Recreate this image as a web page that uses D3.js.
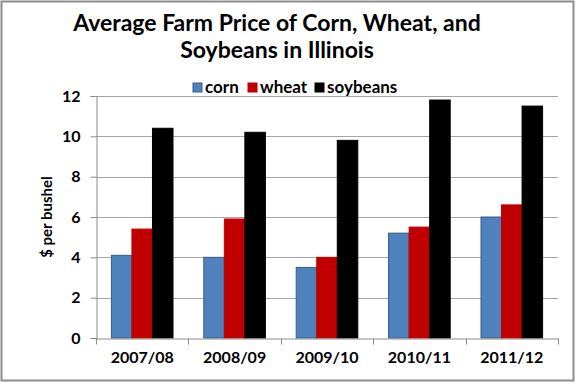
<!DOCTYPE html>
<html>
<head>
<meta charset="utf-8">
<script src="https://cdn.jsdelivr.net/npm/d3@7"></script>
<style>
  body { margin: 0; background: #fff; }
  text { font-family: "Lato", "Open Sans", sans-serif; font-weight: bold; fill: #000; }
</style>
</head>
<body>
<div id="chart"></div>
<script>
var years = ["2007/08", "2008/09", "2009/10", "2010/11", "2011/12"];
var series = ["corn", "wheat", "soybeans"];
var corn = [4.1, 4.0, 3.5, 5.2, 6.0];
var wheat = [5.4, 5.9, 4.0, 5.5, 6.6];
var soybeans = [10.4, 10.2, 9.8, 11.8, 11.5];
var yTicks = [0, 2, 4, 6, 8, 10, 12];

var colors = { corn: "#4F81BD", wheat: "#C00000", soybeans: "#000000" };
var strokes = { corn: "#385D8A", wheat: "#C00000", soybeans: "#000000" };
var values = { corn: corn, wheat: wheat, soybeans: soybeans };

var svgWidth = 577;
var svgHeight = 384;

var margin = { top: 96, right: 19, bottom: 46, left: 96 };
var width = svgWidth - margin.left - margin.right;
var height = svgHeight - margin.top - margin.bottom;

var svg = d3.select("#chart")
  .append("svg")
  .attr("width", svgWidth)
  .attr("height", svgHeight);

// outer frame
svg.append("rect")
  .attr("x", 1.5).attr("y", 1.5)
  .attr("width", svgWidth - 5).attr("height", svgHeight - 5)
  .attr("fill", "#fff")
  .attr("stroke", "#8C8C8C")
  .attr("stroke-width", 2);

// title
var title = svg.append("text")
  .attr("text-anchor", "middle")
  .attr("font-size", "23px");
title.append("tspan").attr("x", 277).attr("y", 31).text("Average Farm Price of Corn, Wheat, and");
title.append("tspan").attr("x", 277).attr("y", 58).text("Soybeans in Illinois");

var chartGroup = svg.append("g")
  .attr("transform", `translate(${margin.left}, ${margin.top})`);

var x = d3.scaleBand()
  .domain(years)
  .range([0, width]);

var x1 = d3.scaleBand()
  .domain(series)
  .range([0, x.bandwidth()])
  .paddingOuter(0.75);

var y = d3.scaleLinear()
  .domain([0, 12])
  .range([height, 0]);

// gridlines
chartGroup.append("g")
  .selectAll("line")
  .data(yTicks.filter(d => d > 0))
  .enter()
  .append("line")
  .attr("x1", 0)
  .attr("x2", width)
  .attr("y1", d => Math.round(y(d)) + 0.5)
  .attr("y2", d => Math.round(y(d)) + 0.5)
  .attr("stroke", "#A6A6A6");

// bars
series.forEach(function(s) {
  chartGroup.selectAll(null)
    .data(years)
    .enter()
    .append("rect")
    .attr("x", d => x(d) + x1(s))
    .attr("y", (d, i) => y(values[s][i]))
    .attr("width", x1.bandwidth())
    .attr("height", (d, i) => height - y(values[s][i]))
    .attr("fill", colors[s])
    .attr("stroke", strokes[s])
    .attr("stroke-width", 1);
});

// axes
var leftAxis = d3.axisLeft(y).tickValues(yTicks).tickSize(6).tickPadding(10);
var yAxisG = chartGroup.append("g")
  .attr("transform", "translate(0.5,0)")
  .call(leftAxis);
yAxisG.select(".domain").attr("stroke", "#8C8C8C");
yAxisG.selectAll(".tick line").attr("stroke", "#8C8C8C");
yAxisG.selectAll(".tick text")
  .attr("font-size", "16px")
  .attr("font-family", "Lato, sans-serif")
  .attr("font-weight", "bold")
  .attr("fill", "#000");

var bottomAxis = d3.axisBottom(x).tickSize(0).tickPadding(13);
var xAxisG = chartGroup.append("g")
  .attr("transform", `translate(0, ${height + 0.5})`)
  .call(bottomAxis);
xAxisG.select(".domain").attr("stroke", "#8C8C8C");
xAxisG.selectAll(".tick text")
  .attr("font-size", "16px")
  .attr("font-family", "Lato, sans-serif")
  .attr("font-weight", "bold")
  .attr("fill", "#000");

// x tick marks at category boundaries
xAxisG.selectAll(".bound")
  .data(years.concat(["end"]))
  .enter()
  .append("line")
  .attr("x1", (d, i) => Math.round(i * x.step()) + 0.5)
  .attr("x2", (d, i) => Math.round(i * x.step()) + 0.5)
  .attr("y1", 0)
  .attr("y2", 6)
  .attr("stroke", "#8C8C8C");

// y axis title
svg.append("text")
  .attr("transform", "rotate(-90)")
  .attr("x", -217)
  .attr("y", 52)
  .attr("text-anchor", "middle")
  .attr("font-size", "15px")
  .text("$ per bushel");

// legend
var legendX = [193, 248, 315];
var legend = svg.selectAll(".legend")
  .data(series)
  .enter()
  .append("g")
  .attr("transform", (d, i) => `translate(${legendX[i]}, 83)`);
legend.append("rect")
  .attr("width", 9).attr("height", 9)
  .attr("fill", d => colors[d])
  .attr("stroke", d => strokes[d]);
legend.append("text")
  .attr("x", 12)
  .attr("y", 10)
  .attr("font-size", "17px")
  .text(d => d);
</script>
</body>
</html>
